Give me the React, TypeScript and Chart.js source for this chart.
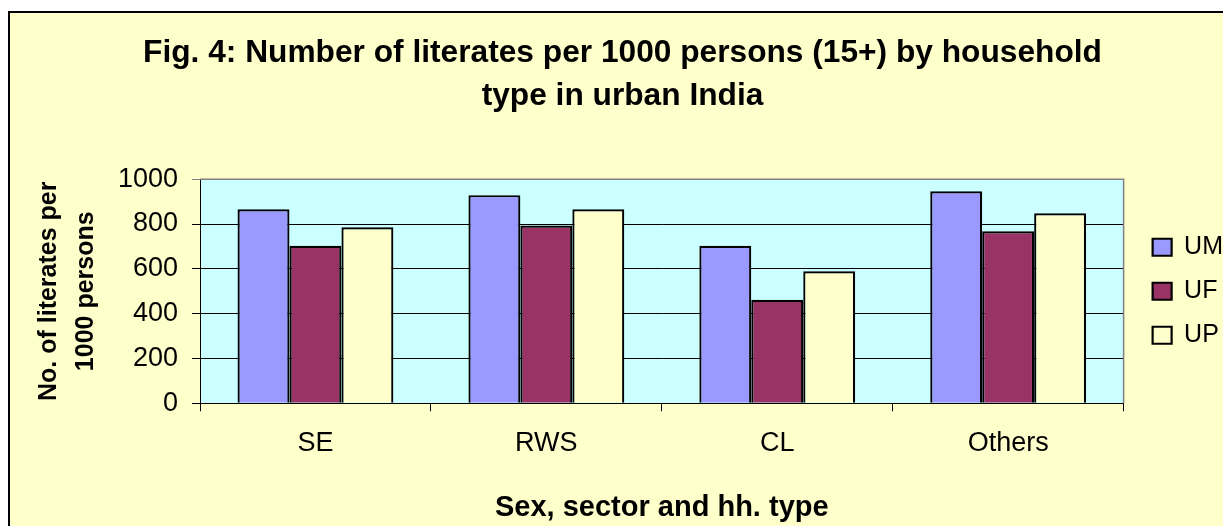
import React, { useEffect, useRef } from 'react';
import { Chart, registerables } from 'chart.js';

Chart.register(...registerables);

const categories = ['SE', 'RWS', 'CL', 'Others'];
const seriesNames = ['UM', 'UF', 'UP'];
const umValues = [866, 929, 703, 946];
const ufValues = [703, 793, 462, 768];
const upValues = [786, 866, 589, 848];
const seriesColors = ['#9999FF', '#993366', '#FFFFCC'];
const yMin = 0;
const yMax = 1000;
const yStep = 200;
const titleLines = [
  'Fig. 4: Number of literates per 1000 persons (15+) by household',
  'type in urban India',
];
const yTitleLines = ['No. of literates per', '1000 persons'];
const xTitle = 'Sex, sector and hh. type';

const FONT = '"Liberation Sans", Arial, Helvetica, sans-serif';

const plotPlugin = {
  id: 'plotDecor',
  afterLayout(chart: any) {
    const lg = chart.legend;
    if (lg) {
      lg.left += 10;
      lg.right += 10;
    }
  },
  beforeDraw(chart: any) {
    const { ctx, chartArea: a } = chart;
    ctx.save();
    ctx.fillStyle = '#CCFFFF';
    ctx.fillRect(a.left, a.top, a.right - a.left, a.bottom - a.top);
    ctx.restore();
  },
  beforeDatasetsDraw(chart: any) {
    const { ctx, chartArea: a } = chart;
    ctx.save();
    ctx.strokeStyle = '#808080';
    ctx.lineWidth = 1.5;
    ctx.beginPath();
    ctx.moveTo(a.left, a.top);
    ctx.lineTo(a.right, a.top);
    ctx.lineTo(a.right, a.bottom);
    ctx.stroke();
    ctx.restore();
  },
};

export default function App() {
  const ref = useRef<HTMLCanvasElement | null>(null);

  useEffect(() => {
    if (!ref.current) return;
    const values = [umValues, ufValues, upValues];
    const chart = new Chart(ref.current, {
      type: 'bar',
      data: {
        labels: categories,
        datasets: seriesNames.map((name, i) => ({
          label: name,
          data: values[i],
          backgroundColor: seriesColors[i],
          borderColor: '#000000',
          borderWidth: 2.2,
          categoryPercentage: 0.675,
          barPercentage: 1,
        })),
      },
      options: {
        responsive: false,
        animation: false,
        devicePixelRatio: 1,
        layout: { padding: { left: 12, right: 0, top: 0, bottom: 0 } },
        plugins: {
          title: {
            display: true,
            text: titleLines,
            color: '#000',
            font: { family: FONT, size: 31.7, weight: 'bold', lineHeight: 1.36 },
            padding: { top: 19, bottom: 61 },
          },
          legend: {
            display: true,
            position: 'right',
            fullSize: false,
            align: 'center',
            labels: {
              color: '#000',
              font: { family: FONT, size: 25 },
              boxWidth: 19,
              boxHeight: 17,
              padding: 19,
            },
          },
          tooltip: { enabled: false },
        },
        scales: {
          x: {
            offset: true,
            grid: {
              display: true,
              drawOnChartArea: false,
              drawTicks: true,
              tickLength: 8,
              color: '#000',
              offset: true,
            },
            border: { display: true, color: '#000', width: 1 },
            ticks: {
              color: '#000',
              font: { family: FONT, size: 27 },
              padding: 16,
              maxRotation: 0,
            },
            title: {
              display: true,
              text: xTitle,
              color: '#000',
              font: { family: FONT, size: 29, weight: 'bold' },
              padding: { top: 0, bottom: 1 },
            },
            afterFit: (scale: any) => {
              scale.height = 122.7;
            },
          },
          y: {
            min: yMin,
            max: yMax,
            ticks: {
              stepSize: yStep,
              color: '#000',
              font: { family: FONT, size: 27 },
              padding: 14,
              callback: (v: any) => String(v),
            },
            grid: {
              display: true,
              drawOnChartArea: true,
              drawTicks: true,
              tickLength: 8,
              color: (c: any) => (c.tick && c.tick.value === yMax ? '#808080' : '#000'),
              lineWidth: 1,
            },
            border: { display: true, color: '#000', width: 1 },
            title: {
              display: true,
              text: yTitleLines,
              color: '#000',
              font: { family: FONT, size: 25, weight: 'bold', lineHeight: 1.5 },
              padding: { top: 8, bottom: 0 },
            },
            afterFit: (scale: any) => {
              scale.width = 178;
            },
          },
        },
      },
      plugins: [plotPlugin],
    } as any);
    return () => chart.destroy();
  }, []);

  return (
    <div
      style={{
        position: 'fixed',
        left: 8,
        top: 11,
        width: 1215,
        height: 515,
        boxSizing: 'border-box',
        background: '#FFFFCC',
        borderTop: '2px solid #000',
        borderLeft: '2px solid #000',
        overflow: 'hidden',
      }}
    >
      <canvas ref={ref} width={1213} height={513} style={{ display: 'block', width: 1213, height: 513 }} />
    </div>
  );
}
